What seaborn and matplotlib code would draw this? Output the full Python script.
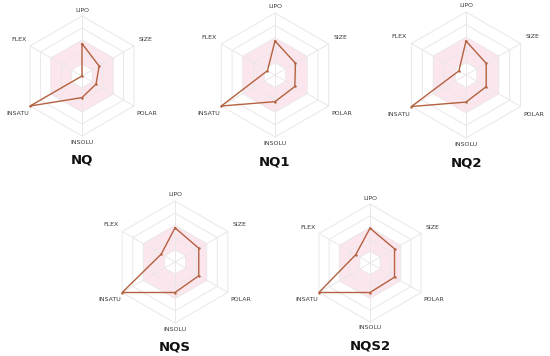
import numpy as np
import pandas as pd
import matplotlib
matplotlib.use("Agg")
import matplotlib.pyplot as plt
import seaborn as sns

sns.set_theme(style="white")
plt.rcParams['font.family'] = ['DejaVu Sans']

axes_labels = ["LIPO", "SIZE", "POLAR", "INSOLU", "INSATU", "FLEX"]
compounds = ["NQ", "NQ1", "NQ2", "NQS", "NQS2"]
nq = [0.54, 0.33, 0.27, 0.36, 1.0, 0.0]
nq1 = [0.55, 0.38, 0.37, 0.43, 1.0, 0.14]
nq2 = [0.54, 0.37, 0.37, 0.43, 1.0, 0.13]
nqs = [0.56, 0.45, 0.45, 0.50, 1.0, 0.26]
nqs2 = [0.59, 0.48, 0.48, 0.50, 1.0, 0.28]
values = [nq, nq1, nq2, nqs, nqs2]

# panel layout: center (px) and radius (px)
centers = [(82, 76), (275, 75), (466, 75), (175, 262), (370, 263)]
radii = [60, 62, 63, 61, 59]

W, H = 550, 356
fig = plt.figure(figsize=(W / 100, H / 100), dpi=100)
fig.patch.set_facecolor("white")

angles = np.deg2rad([90, 30, -30, -90, 210, 150])
ca, sa = np.cos(angles), np.sin(angles)
line_col = "#b3613f"
grid_col = "#ebe6e8"
pink = "#fce6ed"
L = 1.5

def hexpts(r):
    return np.append(ca, ca[0]) * r, np.append(sa, sa[0]) * r

for name, vals, (cx, cy), r in zip(compounds, values, centers, radii):
    ax = fig.add_axes([(cx - L * r) / W, (H - cy - L * r) / H, 2 * L * r / W, 2 * L * r / H])
    ax.set_xlim(-L, L)
    ax.set_ylim(-L, L)
    ax.set_aspect("equal")
    ax.axis("off")
    # pink optimal zone between 0.2 and 0.6
    xo, yo = hexpts(0.6)
    xi, yi = hexpts(0.2)
    ax.fill(np.concatenate([xo, xi[::-1]]), np.concatenate([yo, yi[::-1]]),
            color=pink, lw=0, zorder=1)
    for rr in [0.2, 0.4, 0.6, 0.8, 1.0]:
        hx, hy = hexpts(rr)
        ax.plot(hx, hy, color=grid_col, lw=0.7, zorder=2)
    for c, s in zip(ca, sa):
        ax.plot([0, c], [0, s], color=grid_col, lw=0.7, zorder=2)
    v = np.array(vals)
    df = pd.DataFrame({"x": np.append(v * ca, v[0] * ca[0]),
                       "y": np.append(v * sa, v[0] * sa[0]),
                       "order": np.arange(7)})
    sns.lineplot(data=df, x="x", y="y", sort=False, estimator=None, ax=ax,
                 color=line_col, lw=1.0, zorder=4, legend=False)
    sns.scatterplot(data=df.iloc[:6], x="x", y="y", ax=ax, color=line_col,
                    s=3, linewidth=0, zorder=5, legend=False)
    ax.set_xlabel("")
    ax.set_ylabel("")
    ax.axis("off")
    lab_r = [1.1, 1.22, 1.24, 1.1, 1.24, 1.22]
    for lbl, c, s, lr in zip(axes_labels, ca, sa, lab_r):
        ax.text(c * lr, s * lr, lbl, ha="center", va="center", fontsize=4.5, color="#3a3a3a")
    ax.text(0, -1.4, name, ha="center", va="center", fontsize=9.5, fontweight="bold", color="#111111")

fig.savefig("out.png", dpi=100, facecolor="white")
